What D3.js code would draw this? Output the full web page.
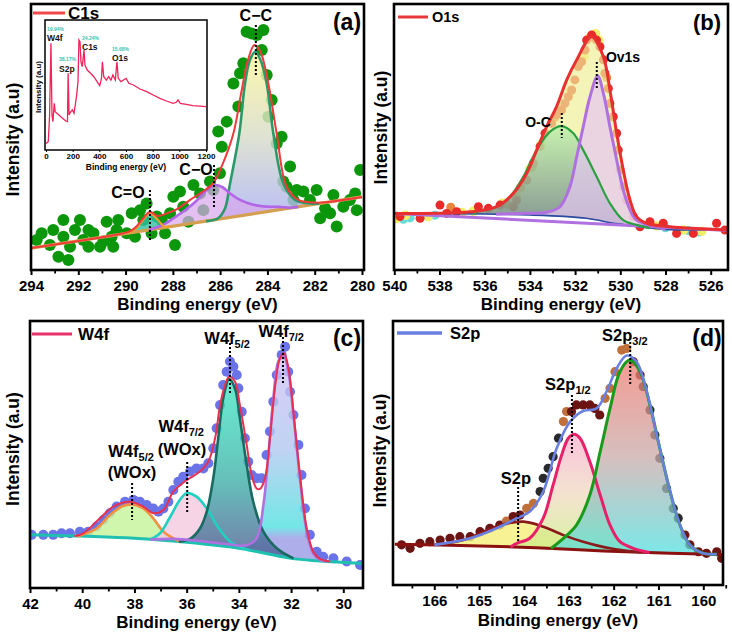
<!DOCTYPE html>
<html><head><meta charset="utf-8">
<script src="https://cdn.jsdelivr.net/npm/d3@7"></script>
<style>body{margin:0;background:#fff}svg{display:block}</style>
</head><body><svg id="chart" width="732" height="633"></svg>
<script>
// ---------------- DATA ----------------
// (a) C1s
const a_ticks = [294,292,290,288,286,284,282,280];
const a_minor = [293,291,289,287,285,283,281];
const a_points = [[293.76,11.9],[293.55,14.4],[293.2,10.0],[293.06,15.6],[292.84,5.7],[292.63,13.1],[292.42,4.5],[292.35,9.4],[292.63,19.3],[292.14,15.6],[291.93,19.3],[291.79,11.9],[291.57,15.6],[291.36,14.4],[291.57,9.4],[291.08,9.4],[290.94,11.3],[290.8,18.7],[290.59,13.1],[290.52,9.4],[290.38,15.6],[290.31,19.3],[289.95,14.4],[289.74,21.8],[289.6,13.1],[289.39,23.0],[289.25,19.3],[289.11,25.5],[288.9,14.4],[288.68,20.6],[288.47,19.3],[288.33,14.4],[288.12,21.8],[287.98,28.0],[287.91,10.0],[287.7,29.9],[287.56,24.3],[287.34,18.7],[287.13,32.3],[286.85,29.2],[286.71,23.0],[286.43,33.6],[286.29,30.5],[286.08,52.2],[286.01,36.7],[285.93,46.6],[285.72,55.9],[285.44,70.1],[285.23,61.5],[285.16,73.9],[285.02,77.6],[284.88,89.3],[284.67,88.7],[284.45,88.1],[284.24,82.5],[284.17,90.0],[284.03,73.2],[283.96,57.7],[283.82,63.9],[283.61,47.8],[283.4,50.3],[283.33,33.6],[283.19,31.7],[283.04,39.2],[282.9,26.8],[282.76,30.5],[282.48,29.9],[282.2,26.8],[281.92,30.5],[281.77,20.0],[281.56,23.7],[281.35,21.8],[281.21,28.6],[281.07,16.9],[280.79,24.3],[280.51,26.8],[280.29,29.2],[280.22,23.0],[280.08,37.9]];
const a_baseline = [[294,8.9],[280,27.9]];
const a_CC = [[286.6,18.9,18.9],[286.1,19.9,19.6],[285.8,23.5,20.0],[285.58,33,20.3],[285.19,51.5,20.9],[284.95,70,21.2],[284.75,78.5,21.5],[284.52,81.9,21.8],[284.3,79,22.1],[284.03,70,22.4],[283.75,51.5,22.8],[283.33,33,23.4],[282.83,26.8,24.1],[282.2,25.5,24.9],[281.8,25.5,25.4]];
const a_CO = [[289.0,15.7,15.7],[288.4,17.6,16.5],[287.84,20.8,17.3],[287.4,23.5,17.9],[286.99,26.6,18.4],[286.6,30.2,18.9],[286.22,32.3,19.5],[285.9,31.5,19.9],[285.58,29.2,20.3],[285.16,26.8,20.9],[284.6,25.0,21.7],[284.03,24.3,22.4],[283.5,24.2,23.1],[283.04,23.9,23.8],[282.7,24.2,24.2]];
const a_CdO = [[289.9,14.5,14.5],[289.6,15.8,14.9],[289.3,19.0,15.3],[288.97,21.8,15.7],[288.65,19.5,16.2],[288.35,16.8,16.6],[288.1,17.0,17.0]];
const a_envelope = [[294,8.9],[290.5,13.7],[289.9,14.8],[289.6,16.4],[289.3,19.5],[288.97,22.4],[288.65,20.8],[288.26,21.8],[287.8,23.5],[287.27,26.8],[286.8,29.5],[286.29,33],[285.9,40],[285.44,51.5],[285.1,67],[284.85,78],[284.55,84.4],[284.3,82],[283.96,70],[283.61,51.5],[283.19,31.7],[282.69,26.8],[282.0,25.8],[281.5,25.9],[280,27.9]];
const a_labels = [["C\u2212C","",284.49,93.3],["C\u2212O","",287.02,36.1],["C=O","",289.9,27.5]];
const a_guides = [[284.49,91.8,73.2],[286.26,39.8,24.2],[288.97,30.5,11.9]];
// (a) inset survey
const s_ticks = [0,200,400,600,800,1000,1200];
const s_spectrum = [[0,5.1],[17,6.4],[27,26.9],[37,82.1],[45,26.9],[52,21.8],[62,35.9],[69,29.5],[82,28.2],[111,25.6],[148,22.3],[161,21.8],[166,59.0],[173,26.9],[186,29.5],[198,30.8],[210,28.2],[223,37.2],[230,42.3],[240,52.6],[247,84.6],[255,83.3],[262,67.9],[272,64.1],[285,76.9],[292,65.4],[309,61.5],[334,59.0],[359,56.4],[383,52.6],[403,49.5],[416,55.1],[423,67.9],[433,56.4],[453,53.8],[470,56.4],[487,53.8],[502,57.7],[520,53.8],[532,67.9],[542,55.1],[562,52.6],[581,53.8],[601,55.1],[621,51.3],[656,50.0],[705,46.9],[755,44.9],[804,42.3],[854,39.7],[903,37.7],[953,35.9],[977,36.7],[990,38.5],[1007,35.9],[1052,35.1],[1101,34.1],[1151,33.8],[1200,33.3]];
const s_peaks = [["W4f","19.94%",0],["S2p","38.17%",1],["C1s","24.24%",2],["O1s","15.68%",3]];

// (b) O1s
const b_ticks = [540,538,536,534,532,530,528,526];
const b_minor = [539,537,535,533,531,529,527,525];
const b_points = [[539.75,20.0],[538.86,19.4],[537.98,24.3],[537.68,21.2],[537.24,21.8],[536.28,23.7],[535.84,23.1],[535.32,24.3],[534.73,23.7],[534.59,26.2],[534.14,33.7],[533.85,40.0],[533.55,46.2],[533.33,51.2],[533.04,54.9],[532.82,58.1],[532.6,59.9],[532.45,62.4],[532.3,64.9],[532.15,67.4],[532.01,71.2],[531.86,76.2],[531.71,78.0],[531.56,82.4],[531.49,86.1],[531.27,88.0],[531.05,86.1],[530.9,83.6],[530.75,78.7],[530.68,73.7],[530.53,68.0],[530.46,62.4],[530.31,57.4],[530.16,51.2],[530.09,44.9],[530.01,37.5],[529.87,31.2],[529.72,26.2],[529.42,20.0],[529.13,16.2],[528.69,18.1],[528.1,17.5],[527.51,13.7],[526.77,13.7],[525.74,17.5],[525.37,15.0]];
const b_pointsYellow = [[531.1,88.5],[530.95,86],[531.35,87],[531.6,80],[532.2,67],[532.6,61],[533.5,47],[534.0,38],[534.6,28],[535.2,25],[536.5,22],[538.5,20],[539.5,20.5],[528.4,16.5],[527.2,15],[526.4,14.5],[539.9,19.3],[537.0,21.5]];
const b_pointsOrange = [[533.9,38.5],[534.4,31],[532.9,57],[531.2,87],[537.5,23.5],[530.6,72],[535.0,24.6]];
const b_pointsCyan = [[539.9,20.2],[539.3,19.5],[538.2,20.5],[528.0,15.8],[527.0,14.8],[526.5,14.2],[539.6,19.0]];
const b_shirley = [[540,21.2],[536,21.0],[534,20.6],[532.5,20.1],[531.5,19.4],[531,18.7],[530.5,17.8],[530,17.2],[529.5,16.5],[529,16.0],[528,15.2],[526,15.0],[525.2,15.0]];
const b_baseline = [[540,21.2],[525.2,14.8]];
const b_OC = [[536.5,21.05,21.05],[536.21,22.2,21.0],[535.47,23.7,20.9],[534.88,27.5,20.75],[534.29,35.0,20.65],[533.7,44.9,20.5],[533.11,51.8,20.35],[532.6,53.9,20.15],[532.08,51.2,19.8],[531.64,44.9,19.4],[531.05,35.0,18.7],[530.46,25.0,17.8],[529.87,18.7,17.0],[529.28,16.9,16.3],[528.7,15.7,15.7]];
const b_Ov = [[535.5,20.9,20.9],[534.44,21.2,20.6],[533.26,21.6,20.35],[532.67,23.7,20.15],[532.23,31.2,19.9],[531.93,42.4,19.7],[531.64,53.7,19.4],[531.34,64.9,19.0],[531.0,72.7,18.7],[530.75,66.2,18.3],[530.46,53.7,17.8],[530.16,41.2,17.4],[529.87,30.0,17.0],[529.57,22.5,16.7],[529.28,18.7,16.3],[528.69,16.9,15.7],[528.0,15.2,15.2]];
const b_envelope = [[540,21.2,21.2],[536.65,21.8,21.05],[535.47,23.7,20.9],[534.73,28.7,20.75],[534.14,36.2,20.6],[533.7,44.9,20.5],[533.26,53.7,20.35],[532.82,61.2,20.2],[532.37,71.2,20.0],[531.93,78.7,19.7],[531.27,87.4,18.9],[530.75,79.9,18.3],[530.46,67.4,17.8],[530.16,51.2,17.4],[529.87,37.5,17.0],[529.57,26.2,16.7],[529.28,20.0,16.3],[528.83,17.5,15.9],[527.8,16.2,15.2],[525.2,15.0,15.0]];
const b_labels = [["O-C","",533.64,53.6],["Ov1s","",529.88,77.9]];
const b_guides = [[532.59,58.8,49.4],[531.04,77.9,68.2]];

// (c) W4f
const c_ticks = [42,40,38,36,34,32,30];
const c_minor = [41,39,37,35,33,31];
const c_points = [[41.94,19.9],[41.49,19.9],[41.11,19.9],[40.79,20.5],[40.47,20.5],[40.09,21.1],[39.77,21.1],[39.45,23.0],[39.19,25.5],[38.94,28.0],[38.68,30.5],[38.36,32.3],[38.04,33.0],[37.79,32.3],[37.53,31.1],[37.28,29.8],[37.08,28.6],[36.89,29.8],[36.7,32.3],[36.51,36.7],[36.32,39.8],[36.13,41.7],[35.87,43.6],[35.62,44.8],[35.36,44.8],[35.17,46.7],[34.98,52.3],[34.85,59.8],[34.72,68.5],[34.6,76.0],[34.47,81.0],[34.34,84.8],[34.21,82.9],[34.08,79.8],[34.02,74.8],[33.89,66.0],[33.77,56.1],[33.64,47.3],[33.51,42.3],[33.32,41.1],[33.13,41.1],[32.94,49.8],[32.81,58.6],[32.68,69.8],[32.55,79.8],[32.36,87.3],[32.23,90.4],[32.11,81.0],[32.04,73.5],[31.91,64.8],[31.72,53.6],[31.6,42.3],[31.47,29.8],[31.28,19.9],[31.02,13.6],[30.77,11.7],[30.38,11.1],[29.87,9.9],[29.36,8.6]];
const c_baseline = [[42,19.9],[38,18.6],[36,17.1],[34,14.9],[33,13.0],[32,11.1],[31,10.2],[29.2,9.2]];
const c_W38 = [[40.2,19.3,19.3],[39.45,22.3,19.07],[38.94,27.3,18.9],[38.49,30.5,18.76],[38.07,31.3,18.62],[37.66,29.8,18.35],[37.28,26.1,18.06],[36.89,21.1,17.77],[36.51,18.6,17.48],[36.2,17.25,17.25]];
const c_W36 = [[37.4,18.15,18.15],[37.02,20.5,17.87],[36.64,26.5,17.58],[36.26,33.0,17.3],[36.0,35.5,17.1],[35.62,34.2,16.68],[35.23,29.8,16.25],[34.85,23.6,15.84],[34.34,17.4,15.27],[33.83,14.9,14.58],[33.6,14.14,14.14]];
const c_W34 = [[36.3,17.3,17.3],[35.87,18.4,16.96],[35.49,22.3,16.54],[35.23,28.6,16.25],[34.98,41.1,15.98],[34.79,56.1,15.77],[34.6,71.0,15.56],[34.37,78.3,15.31],[34.15,74.8,15.07],[33.96,63.5,14.82],[33.7,46.1,14.33],[33.45,32.3,13.86],[33.06,21.1,13.11],[32.55,14.9,12.15],[31.91,11.1,11.02]];
const c_W32 = [[37.4,18.15,18.15],[36.5,18.4,17.48],[35.5,17.6,16.55],[34.5,16.5,15.45],[33.7,16.0,14.33],[33.32,18.6,13.6],[33.06,31.1,13.11],[32.87,49.8,12.75],[32.68,71.0,12.39],[32.49,84.8,12.03],[32.3,87.3,11.67],[32.1,81.0,11.29],[31.91,64.8,11.02],[31.66,41.1,10.79],[31.4,21.1,10.56],[31.15,13.0,10.34],[30.89,10.5,10.14],[30.6,9.98,9.98]];
const c_envelope = [[40.3,19.5],[39.96,20.5],[39.32,26.1],[38.81,30.5],[38.17,32.3],[37.66,30.5],[37.28,28.0],[36.89,29.2],[36.51,36.1],[36.0,40.4],[35.49,43.6],[35.17,47.3],[34.91,56.1],[34.72,68.5],[34.53,76.0],[34.37,79.2],[34.15,77.3],[33.96,68.5],[33.7,53.6],[33.51,42.3],[33.32,37.3],[33.19,37.1],[33.0,41.1],[32.81,56.1],[32.62,74.8],[32.43,85.9],[32.27,87.9],[32.1,82.3],[31.91,66.0],[31.66,42.3],[31.4,22.3],[31.15,13.6],[30.89,10.9],[30.5,9.9]];
const c_labels = [["W4f","5/2",34.45,91.4],["W4f","7/2",32.38,94.0],["W4f","7/2",36.21,58.4],["(WOx)","",36.18,49.8],["W4f","5/2",38.13,49.1],["(WOx)","",38.09,41.2]];
const c_guides = [[34.34,91.8,72.3],[32.31,94.0,76.0],[35.98,47.2,28.5],[38.09,39.3,25.5]];

// (d) S2p
const d_ticks = [166,165,164,163,162,161,160];
const d_minor = [166.5,165.5,164.5,163.5,162.5,161.5,160.5,159.5];
const d_points = [[166.73,15.2,0],[166.54,13.9,0],[166.32,15.8,0],[166.1,16.4,0],[165.87,17.0,0],[165.65,17.7,0],[165.43,18.3,0],[165.2,18.3,0],[164.98,20.2,0],[164.76,21.5,0],[164.54,22.7,0],[164.39,24.2,2],[164.24,25.9,0],[164.09,26.5,0],[163.94,29.0,2],[163.79,30.9,2],[163.64,35.4,1],[163.57,40.4,1],[163.46,44.2,1],[163.35,48.6,1],[163.23,55.6,1],[163.12,61.9,2],[163.05,65.7,2],[162.94,65.7,0],[162.83,68.2,0],[162.68,68.2,0],[162.53,68.2,0],[162.42,66.9,0],[162.31,64.4,0],[162.19,70.7,2],[162.08,74.5,2],[161.97,80.8,2],[161.82,89.0,2],[161.71,89.6,2],[161.56,84.6,0],[161.41,79.5,0],[161.34,75.1,1],[161.19,66.3,1],[161.08,56.8,1],[160.97,48.0,1],[160.82,36.6,1],[160.67,29.0,1],[160.56,25.3,1],[160.41,18.9,0],[160.3,15.2,0],[160.11,12.6,0],[159.93,12.0,0],[159.7,12.6,0],[159.59,10.1,0]];
const d_baseline = [[166.88,15.4],[165.2,14.9],[163.72,14.1],[162.23,12.9],[160.74,12.0],[159.57,11.6]];
const d_S2p = [[166.0,15.13,15.13],[165.35,17.0,14.95],[164.91,20.2,14.74],[164.46,23.0,14.5],[164.01,24.0,14.26],[163.57,22.1,13.98],[163.12,18.9,13.62],[162.68,16.4,13.26],[162.08,13.9,12.8],[161.4,12.4,12.4]];
const d_S12 = [[164.3,14.43,14.43],[164.16,15.8,14.35],[163.87,17.7,14.2],[163.57,25.3,13.98],[163.35,37.9,13.8],[163.16,49.2,13.65],[163.01,55.6,13.53],[162.88,57.1,13.43],[162.75,55.6,13.32],[162.53,46.7,13.14],[162.3,34.1,12.96],[162.08,22.7,12.81],[161.86,16.4,12.68],[161.56,13.9,12.5],[161.2,12.28,12.28]];
const d_S32 = [[163.4,13.85,13.85],[163.12,17.7,13.62],[162.83,22.7,13.39],[162.53,34.1,13.14],[162.3,50.5,12.96],[162.08,66.9,12.81],[161.86,80.8,12.68],[161.64,85.2,12.54],[161.41,80.8,12.4],[161.19,68.2,12.27],[160.97,51.8,12.14],[160.74,35.4,12.0],[160.52,22.7,11.92],[160.3,15.2,11.85],[160.0,12.0,11.75],[159.7,11.65,11.65]];
const d_envelope = [[166.0,15.2],[165.2,17.7],[164.61,21.5],[164.16,25.3],[163.87,27.8],[163.57,35.4],[163.27,51.8],[162.97,61.9],[162.68,65.9],[162.38,66.9],[162.16,73.2],[161.93,82.1],[161.71,86.9],[161.49,84.6],[161.26,73.2],[161.04,56.8],[160.74,35.4],[160.52,22.7],[160.3,15.2],[160.0,12.0],[159.7,11.7]];
const d_labels = [["S2p","3/2",161.75,92.4],["S2p","1/2",163.02,73.9],["S2p","",164.18,38.3]];
const d_guides = [[161.63,92.0,75.8],[162.93,72.0,50.0],[164.13,37.1,15.9]];

// ---------------- DRAW ----------------
const FONT = '"Liberation Sans", Arial, Helvetica, sans-serif';
const svg = d3.select("#chart");
svg.append("rect").attr("width",732).attr("height",633).attr("fill","#fff");
const defs = svg.append("defs");
function grad(id, stops, user){
  const g = defs.append("linearGradient").attr("id",id);
  if(user){ g.attr("gradientUnits","userSpaceOnUse").attr("x1",0).attr("x2",0).attr("y1",user[0]).attr("y2",user[1]); }
  else { g.attr("x1",0).attr("y1",0).attr("x2",0).attr("y2",1); }
  stops.forEach(s=>g.append("stop").attr("offset",s[0]).attr("stop-color",s[1]));
}
grad("gCC",[[0,"#faf69a"],[0.5,"#d8dcc8"],[1,"#a8b0f4"]]);
grad("gOC",[[0,"#a8f0a8"],[1,"#3a5478"]]);
grad("gW34",[[0,"#40e8c4"],[0.55,"#3ab0a8"],[1,"#4a5890"]]);
grad("gW32",[[0,"#d8c0f4"],[0.5,"#b0c8f0"],[0.85,"#50e0e0"],[0.9,"#9a9ae6"],[1,"#9a9ae6"]],[340,560]);
grad("gS12",[[0,"#f6b0d0"],[0.5,"#f0d8c0"],[1,"#c8f080"]]);
grad("gS32",[[0,"#f07a70"],[0.5,"#c8aaa8"],[1,"#50e0e0"]]);

const curve = d3.curveCatmullRom.alpha(0.5);
function makePanel(id, frame, xd, xr, yr){
  const x = d3.scaleLinear().domain(xd).range(xr);
  const y = d3.scaleLinear().domain([0,100]).range(yr);
  defs.append("clipPath").attr("id","clip"+id).append("rect")
    .attr("x",frame[0]).attr("y",frame[1]).attr("width",frame[2]-frame[0]).attr("height",frame[3]-frame[1]);
  const g = svg.append("g");
  const plot = g.append("g").attr("clip-path",`url(#clip${id})`);
  return {x,y,g,plot,frame};
}
function area(P, data, fill, op){
  P.plot.append("path").datum(data)
    .attr("d", d3.area().x(d=>P.x(d[0])).y1(d=>P.y(d[1])).y0(d=>P.y(d[2])).curve(curve))
    .attr("fill",fill).attr("fill-opacity",op).attr("stroke","none");
}
function line(P, data, stroke, w){
  P.plot.append("path").datum(data)
    .attr("d", d3.line().x(d=>P.x(d[0])).y(d=>P.y(d[1])).curve(curve))
    .attr("fill","none").attr("stroke",stroke).attr("stroke-width",w).attr("stroke-linejoin","round");
}
function dots(P, data, fill, r, op){
  P.plot.append("g").selectAll("circle").data(data).join("circle")
    .attr("cx",d=>P.x(d[0])).attr("cy",d=>P.y(d[1])).attr("r",r)
    .attr("fill", typeof fill==="function"?fill:()=>fill).attr("fill-opacity",op||1);
}
function guides(P, data){
  P.g.append("g").selectAll("line").data(data).join("line")
    .attr("x1",d=>P.x(d[0])).attr("x2",d=>P.x(d[0])).attr("y1",d=>P.y(d[1])).attr("y2",d=>P.y(d[2]))
    .attr("stroke","#000").attr("stroke-width",2).attr("stroke-dasharray","2,2");
}
function labels(P, data, fs, sfs){
  data.forEach(d=>{
    const t = P.g.append("text").attr("x",P.x(d[2])).attr("y",P.y(d[3]))
      .attr("text-anchor","middle").attr("font-family",FONT).attr("font-weight","bold").attr("font-size",fs).attr("fill","#000");
    t.append("tspan").text(d[0]);
    if(d[1]) t.append("tspan").attr("font-size",sfs).attr("dy",4).text(d[1]);
  });
}
function frameAxes(P, ticks, minor, title, titleY, ytitleX, ytitleY){
  const f = P.frame;
  const ax = P.g.append("g").attr("transform",`translate(0,${f[3]})`)
    .call(d3.axisBottom(P.x).tickValues(ticks).tickSize(5).tickPadding(5).tickFormat(d3.format("d")));
  ax.select(".domain").remove();
  ax.attr("font-family",FONT).attr("font-size",15).attr("font-weight","bold");
  ax.selectAll("line").attr("stroke","#000").attr("stroke-width",2);
  ax.selectAll("text").attr("fill","#000");
  const mx = P.g.append("g").attr("transform",`translate(0,${f[3]})`)
    .call(d3.axisBottom(P.x).tickValues(minor).tickSize(3.5).tickFormat(""));
  mx.select(".domain").remove();
  mx.selectAll("line").attr("stroke","#000").attr("stroke-width",1.8);
  P.g.append("rect").attr("x",f[0]).attr("y",f[1]).attr("width",f[2]-f[0]).attr("height",f[3]-f[1])
    .attr("fill","none").attr("stroke","#000").attr("stroke-width",2.6);
  P.g.append("text").attr("x",(f[0]+f[2])/2).attr("y",titleY).attr("text-anchor","middle")
    .attr("font-family",FONT).attr("font-weight","bold").attr("font-size",17).text(title);
  P.g.append("text").attr("transform",`translate(${ytitleX},${ytitleY}) rotate(-90)`).attr("text-anchor","middle")
    .attr("font-family",FONT).attr("font-weight","bold").attr("font-size",17.5).text("Intensity (a.u)");
}
function legend(P, x1, x2, yy, color, w, txt, tx, fs){
  P.g.append("line").attr("x1",x1).attr("x2",x2).attr("y1",yy).attr("y2",yy).attr("stroke",color).attr("stroke-width",w);
  P.g.append("text").attr("x",tx).attr("y",yy+fs*0.36).attr("font-family",FONT).attr("font-weight","bold").attr("font-size",fs).text(txt);
}
function tag(P, x, yy, txt, fs){
  P.g.append("text").attr("x",x).attr("y",yy).attr("text-anchor","middle").attr("font-family",FONT)
    .attr("font-weight","bold").attr("font-size",fs).text(txt);
}

// ----- panel (a)
const A = makePanel("a",[31,4,364,270],[294,280],[31,362],[272,3]);
dots(A, a_points, "#0c960c", 6);
area(A, a_CC, "url(#gCC)", 0.82);
area(A, a_CO, "#d8a8ec", 0.72);
area(A, a_CdO, "#30c0a0", 0.8);
line(A, a_baseline, "#d4a050", 3.2);
line(A, a_CC, "#2a9a6a", 2.6);
line(A, a_CO, "#b066e6", 2.6);
line(A, a_CdO, "#f0a030", 2.2);
line(A, a_envelope, "#f03a3a", 2);
guides(A, a_guides);
labels(A, a_labels, 16, 11);
frameAxes(A, a_ticks, a_minor, "Binding energy (eV)", 309.5, 19, 139.5);
legend(A, 33, 65, 13, "#f04848", 3, "C1s", 68, 17);
tag(A, 347, 30, "(a)", 23);

// inset
{
  const f = [45,20,207,150];
  const x = d3.scaleLinear().domain([0,1200]).range([46,206]);
  const y = d3.scaleLinear().domain([0,100]).range([150,20]);
  const g = svg.append("g");
  g.append("rect").attr("x",f[0]).attr("y",f[1]).attr("width",f[2]-f[0]).attr("height",f[3]-f[1]).attr("fill","#fff");
  g.append("path").datum(s_spectrum).attr("d",d3.line().x(d=>x(d[0])).y(d=>y(d[1])))
    .attr("fill","none").attr("stroke","#f0245a").attr("stroke-width",1.3);
  g.append("rect").attr("x",f[0]).attr("y",f[1]).attr("width",f[2]-f[0]).attr("height",f[3]-f[1])
    .attr("fill","none").attr("stroke","#000").attr("stroke-width",1.5);
  const ax = g.append("g").attr("transform",`translate(0,${f[3]})`)
    .call(d3.axisBottom(x).tickValues(s_ticks).tickSize(2).tickPadding(1).tickFormat(d3.format("d")));
  ax.select(".domain").remove();
  ax.attr("font-family",FONT).attr("font-size",8).attr("font-weight","bold");
  ax.selectAll("line").attr("stroke","#000").attr("stroke-width",1);
  g.append("text").attr("x",126).attr("y",169.5).attr("text-anchor","middle").attr("font-family",FONT)
    .attr("font-weight","bold").attr("font-size",8.5).text("Binding energy (eV)");
  g.append("text").attr("transform","translate(41,87) rotate(-90)").attr("text-anchor","middle").attr("font-family",FONT)
    .attr("font-weight","bold").attr("font-size",8).text("Intensity (a.u)");
  const pos = [[47,31,41],[59,61,72],[82,40,50],[112,51,61]];
  s_peaks.forEach((p,i)=>{
    g.append("text").attr("x",pos[i][0]).attr("y",pos[i][1]).attr("font-family",FONT).attr("font-weight","bold")
      .attr("font-size",5).attr("fill","#36c4b0").text(p[1]);
    g.append("text").attr("x",pos[i][0]).attr("y",pos[i][2]).attr("font-family",FONT).attr("font-weight","bold")
      .attr("font-size",8.5).attr("fill","#111").text(p[0]);
  });
}

// ----- panel (b)
const B = makePanel("b",[394,4,728,270],[540,526],[394.3,710.7],[270,3]);
dots(B, b_pointsCyan, "#66dcd8", 4.5);
dots(B, b_pointsYellow, "#f2ee6a", 4.8);
dots(B, b_pointsOrange, "#e8843c", 4.5);
dots(B, b_points, "#e82a2a", 4.5);
area(B, b_envelope, "#f0f09a", 0.7);
area(B, b_OC, "url(#gOC)", 0.6);
area(B, b_Ov, "#e6c6f2", 0.7);
line(B, b_shirley, "#2a4aa0", 1.6);
line(B, b_baseline, "#b070e0", 3);
line(B, b_OC, "#2aa040", 2.2);
line(B, b_Ov, "#b070e0", 3);
line(B, b_envelope, "#e83030", 3);
guides(B, b_guides);
labels(B, b_labels, 14, 10);
frameAxes(B, b_ticks, b_minor, "Binding energy (eV)", 309.5, 387, 127.5);
legend(B, 398, 428, 17, "#e83a3a", 3, "O1s", 432, 14.5);
tag(B, 707, 30, "(b)", 22);

// ----- panel (c)
const C = makePanel("c",[30,321,363,588],[42,30],[30,343.3],[588,321]);
dots(C, c_points, "#6b73e8", 5);
area(C, c_W38, "#c8f5a0", 0.85);
area(C, c_W32, "url(#gW32)", 0.8);
area(C, c_W36, "#f5c8e0", 0.8);
area(C, c_W34, "url(#gW34)", 0.78);
line(C, c_baseline, "#20c0b0", 3);
line(C, c_W38, "#f09040", 2.6);
line(C, c_W36, "#20d0c0", 2.6);
line(C, c_W34, "#1a6a62", 2.6);
line(C, c_W32, "#b070e0", 2.6);
line(C, c_envelope, "#e83050", 2);
guides(C, c_guides);
labels(C, c_labels, 16.5, 11);
frameAxes(C, c_ticks, c_minor, "Binding energy (eV)", 627.5, 19, 449);
legend(C, 32, 72, 334, "#e8306a", 3, "W4f", 78, 17);
tag(C, 347, 346, "(c)", 23);

// ----- panel (d)
const D = makePanel("d",[393,321,723,585],[166,160],[434.3,703.3],[585,321]);
const dColors = ["#6a1414","#2a2a2a","#c0703a"];
dots(D, d_points, d=>dColors[d[2]], 4.6);
area(D, d_S2p, "#f5f07a", 0.8);
area(D, d_S12, "url(#gS12)", 0.75);
area(D, d_S32, "url(#gS32)", 0.75);
line(D, d_baseline, "#8b1010", 3);
line(D, d_S2p, "#8b1a1a", 2.6);
line(D, d_S12, "#e8206a", 3);
line(D, d_S32, "#1a9a1a", 3);
line(D, d_envelope, "#6a80e0", 2.6);
guides(D, d_guides);
labels(D, d_labels, 16.5, 11);
frameAxes(D, d_ticks, d_minor, "Binding energy (eV)", 625.5, 386, 450.5);
legend(D, 397, 442, 333, "#6a80e0", 3.5, "S2p", 450, 16.5);
tag(D, 707, 346, "(d)", 23);
</script></body></html>
